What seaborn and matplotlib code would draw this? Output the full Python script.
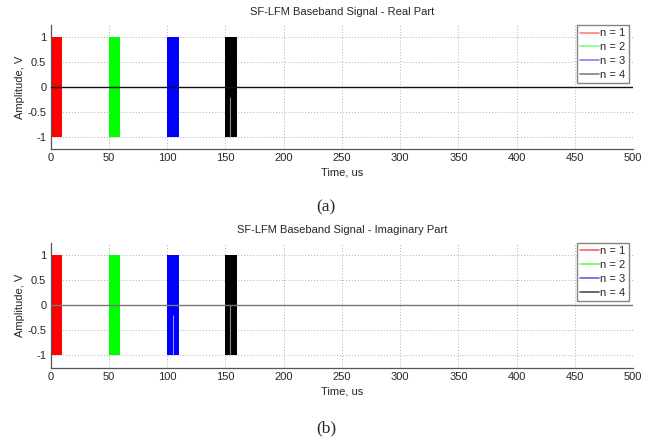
import pandas as pd
import seaborn as sns
import matplotlib.pyplot as plt
from matplotlib.lines import Line2D

# pulse data (us, V)
pulse_n = [1, 2, 3, 4]
pulse_start = [0, 50, 100, 150]
pulse_width = [10, 10, 10, 10]
pulse_amp = [1, 1, 1, 1]
pulse_colors = ["#ff0000", "#00ff00", "#0000ff", "#000000"]
legend_colors = ["#ff8080", "#80ff80", "#8080ff", "#808080"]
legend_colors_b = ["#ff6060", "#60ff60", "#6060e0", "#505050"]

baseline_time = [0, 500]
baseline_amp = [0, 0]

# thin light streaks visible inside some pulses (time, top, bottom, colour)
streak_time = [[153.8], [105.0, 154.2]]
streak_top = [[-0.2], [-0.2, 0.0]]
streak_bottom = [[-1.0], [-1.0, -1.0]]
streak_colors = [["#888888"], ["#9090ff", "#888888"]]

x_ticks = [0, 50, 100, 150, 200, 250, 300, 350, 400, 450, 500]
y_ticks = [-1, -0.5, 0, 0.5, 1]

titles = ["SF-LFM Baseband Signal - Real Part",
          "SF-LFM Baseband Signal - Imaginary Part"]
captions = ["(a)", "(b)"]
baseline_colors = ["#111111", "#777777"]


def set_config():
    sns.set_style("white")
    plt.rcParams["font.family"] = ["Liberation Sans", "DejaVu Sans"]
    plt.rcParams["axes.unicode_minus"] = False
    plt.rcParams["font.size"] = 8


def draw_panel(ax, i, leg_colors):
    df = pd.DataFrame({"start": pulse_start, "width": pulse_width,
                       "amp": pulse_amp, "n": pulse_n})
    for _, row in df.iterrows():
        ax.bar(row["start"], 2 * row["amp"], width=row["width"],
               bottom=-row["amp"], align="edge",
               color=pulse_colors[int(row["n"]) - 1], linewidth=0, zorder=2)

    ax.vlines(streak_time[i], streak_bottom[i], streak_top[i],
              colors=streak_colors[i], linewidth=0.8, zorder=2.5)

    base = pd.DataFrame({"time": baseline_time, "amp": baseline_amp})
    sns.lineplot(data=base, x="time", y="amp", ax=ax,
                 color=baseline_colors[i], linewidth=1.0, zorder=3)

    ax.set_xlim(0, 500)
    ax.set_ylim(-1.25, 1.25)
    ax.set_xticks(x_ticks)
    ax.set_yticks(y_ticks)
    ax.set_yticklabels(["-1", "-0.5", "0", "0.5", "1"])
    ax.grid(True, color="#b0b0b0", linestyle=(0, (1, 2)), linewidth=0.7)
    ax.set_axisbelow(True)
    sns.despine(ax=ax)
    for s in ["left", "bottom"]:
        ax.spines[s].set_color("#555555")
        ax.spines[s].set_linewidth(0.9)
    ax.tick_params(direction="in", length=4, width=0.7, color="#555555",
                   labelsize=8, pad=3)
    ax.set_title(titles[i], fontsize=8, pad=7)
    ax.set_ylabel("Amplitude, V", fontsize=8, labelpad=2)
    ax.set_xlabel("Time, us", fontsize=8, labelpad=3)

    handles = [Line2D([0], [0], color=c, linewidth=1.2) for c in leg_colors]
    labels = ["n = %d" % n for n in pulse_n]
    leg = ax.legend(handles, labels, loc="upper right",
                    bbox_to_anchor=(0.993, 1.0), frameon=True, fancybox=False,
                    fontsize=8, handlelength=1.7, handletextpad=0.1,
                    borderpad=0.3, labelspacing=0.35, borderaxespad=0)
    leg.get_frame().set_edgecolor("#666666")
    leg.get_frame().set_linewidth(1.0)


def main():
    set_config()
    fig = plt.figure(figsize=(6.52, 4.4), dpi=100)
    ax1 = fig.add_axes([0.0775, 0.661, 0.8935, 0.282])
    ax2 = fig.add_axes([0.0775, 0.164, 0.8935, 0.284])
    draw_panel(ax1, 0, legend_colors)
    draw_panel(ax2, 1, legend_colors_b)

    fig.text(0.5, 1 - 207 / 440, captions[0], ha="center", va="center",
             fontsize=12.5, family=["Liberation Serif", "DejaVu Serif"])
    fig.text(0.5, 1 - 428 / 440, captions[1], ha="center", va="center",
             fontsize=12.5, family=["Liberation Serif", "DejaVu Serif"])
    fig.savefig("out.png", dpi=100)


if __name__ == "__main__":
    main()
